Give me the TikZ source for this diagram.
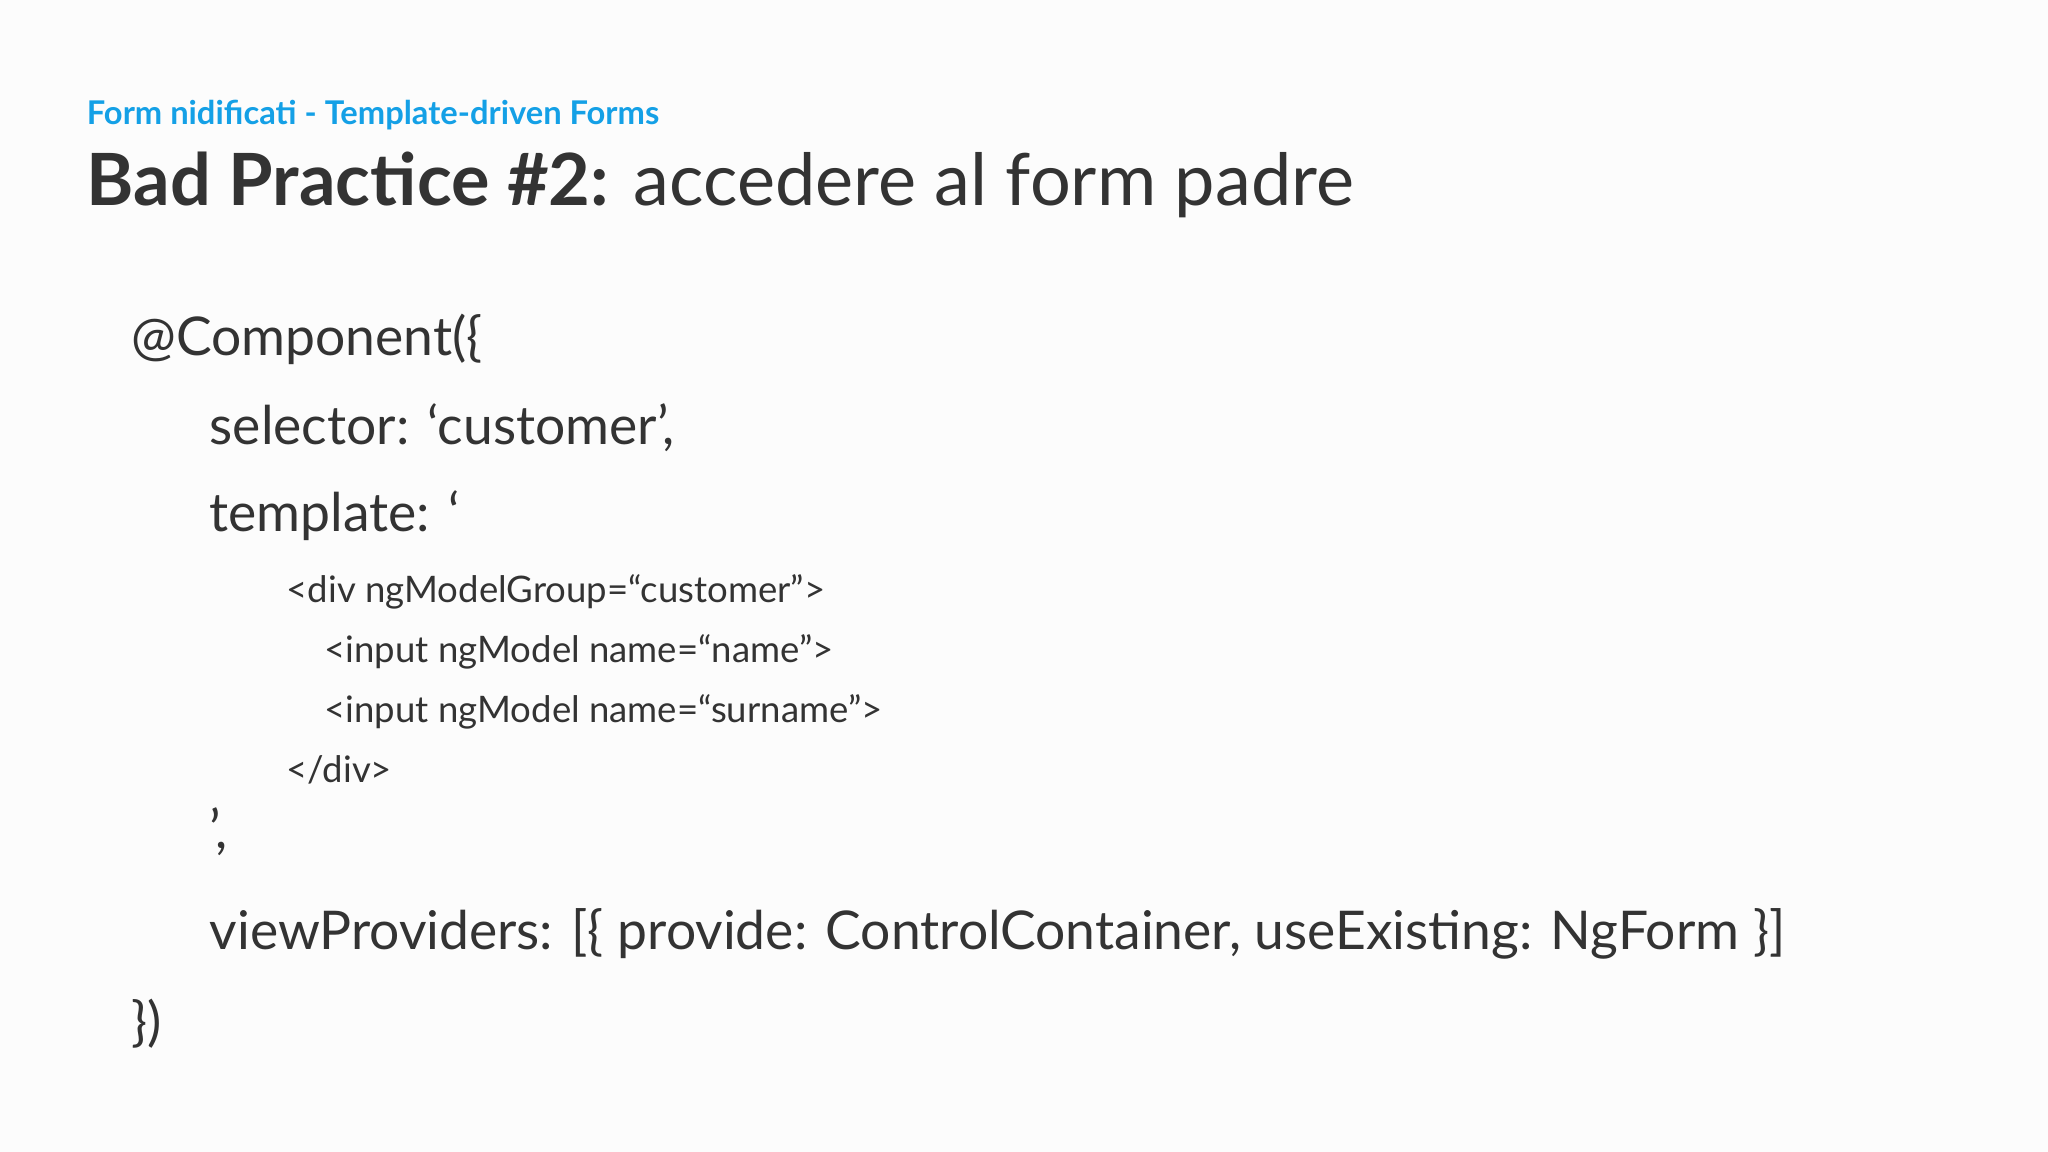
\documentclass[tikz,border=0pt]{standalone}
\usepackage{fontspec}
\setmainfont{Lato}
\definecolor{ink}{RGB}{51,51,51}
\definecolor{sub}{RGB}{20,160,230}
\begin{document}
\begin{tikzpicture}[x=0.013061cm,y=-0.013061cm,
  t/.style={anchor=base west,inner sep=0,text=ink},
  big/.style={t,font=\fontsize{15.2}{18}\selectfont},
  small/.style={t,font=\fontsize{10.4}{12}\selectfont}]
\fill[white!98!gray] (0,0) rectangle (1568,882);
\useasboundingbox (0,0) rectangle (1568,882);
\node[anchor=base west,inner sep=0,text=sub,font=\fontsize{9.3}{11}\selectfont\bfseries] (sub) at (66,95) {Form nidificati - Template-driven Forms};
\node[t,font=\fontsize{20.5}{24}\selectfont] (title) at (66,157) {\textbf{Bad Practice \#2:} accedere al form padre};
\node[big] (l1) at (100,272) {@Component(\{};
\node[big] (l2) at (160,340) {selector: ‘customer’,};
\node[big] (l3) at (160,407) {template: ‘};
\node[small] (l4) at (219,461) {<div ngModelGroup=“customer”>};
\node[small] (l5) at (248,507) {<input ngModel name=“name”>};
\node[small] (l6) at (248,553) {<input ngModel name=“surname”>};
\node[small] (l7) at (219,599) {</div>};
\node[big] (l8) at (160,650) {’,};
\node[big] (l9) at (160,727) {viewProviders: [\{ provide: ControlContainer, useExisting: NgForm \}]};
\node[big] (l10) at (100,797) {\})};
\end{tikzpicture}
\end{document}
